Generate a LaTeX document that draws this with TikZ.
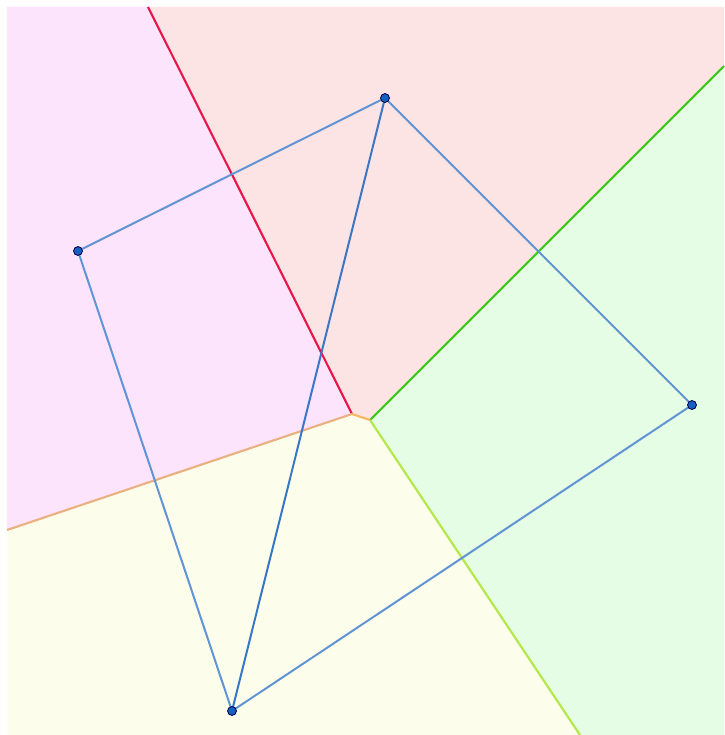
\documentclass[tikz,border=0pt]{standalone}
\definecolor{rmag}{RGB}{253,228,253}
\definecolor{rpink}{RGB}{253,228,228}
\definecolor{rgreen}{RGB}{228,253,228}
\definecolor{ryellow}{RGB}{253,253,236}
\definecolor{lred}{RGB}{232,23,74}
\definecolor{lgreen}{RGB}{62,200,30}
\definecolor{lsalmon}{RGB}{234,176,128}
\definecolor{lyg}{RGB}{180,232,74}
\definecolor{lorange}{RGB}{245,184,96}
\definecolor{edgeblue}{RGB}{96,148,212}
\definecolor{edgedark}{RGB}{56,118,200}
\definecolor{ptfill}{RGB}{22,96,192}
\tikzset{
  bound/.style={line width=1.8pt},
  edgeline/.style={draw=edgeblue,line width=1.7pt},
  pt/.style={circle,fill=ptfill,draw=black!70!blue,line width=0.7pt,inner sep=0pt,minimum size=7.6pt}
}
\begin{document}
\begin{tikzpicture}[x=0.03cm,y=-0.03cm]
\useasboundingbox (0,0) rectangle (724,735);
% Voronoi vertices and boundary ends
\coordinate (v1) at (352,414);
\coordinate (v2) at (370,420);
\coordinate (tr) at (148,7);
\coordinate (tg) at (724,66);
\coordinate (ls) at (7,530);
\coordinate (by) at (580,735);
% regions
\fill[rmag] (7,7) -- (tr) -- (v1) -- (ls) -- cycle;
\fill[rpink] (tr) -- (724,7) -- (tg) -- (v2) -- (v1) -- cycle;
\fill[rgreen] (tg) -- (724,735) -- (by) -- (v2) -- cycle;
\fill[ryellow] (ls) -- (v1) -- (v2) -- (by) -- (7,735) -- cycle;
% boundaries
\draw[bound,lred] (tr) -- (v1);
\draw[bound,lgreen] (v2) -- (tg);
\draw[bound,lsalmon] (v1) -- (ls);
\draw[bound,lyg] (v2) -- (by);
\draw[bound,lorange] (v1) -- (v2);
% sites
\coordinate (A) at (385,98);
\coordinate (B) at (78,251);
\coordinate (C) at (692,405);
\coordinate (D) at (232,711);
\draw[edgeline] (A) -- (B);
\draw[edgeline] (A) -- (C);
\draw[edgeline] (B) -- (D);
\draw[edgeline] (D) -- (C);
\draw[edgeline,draw=edgedark] (A) -- (D);
\node[pt] (nA) at (A) {};
\node[pt] (nB) at (B) {};
\node[pt] (nC) at (C) {};
\node[pt] (nD) at (D) {};
\end{tikzpicture}
\end{document}
